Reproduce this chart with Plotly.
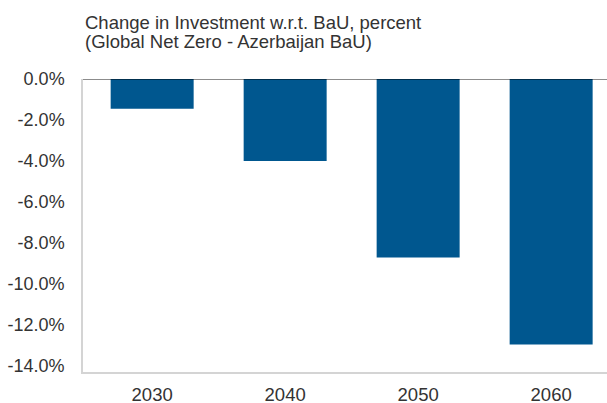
import plotly.graph_objects as go

# Change in investment relative to BaU, by year
years = ["2030", "2040", "2050", "2060"]
change_pct = [-1.45, -4.0, -8.7, -12.95]

y_ticks = [0, -2, -4, -6, -8, -10, -12, -14]
y_tick_text = ["0.0%", "-2.0%", "-4.0%", "-6.0%", "-8.0%", "-10.0%", "-12.0%", "-14.0%"]

title_lines = [
    "Change in Investment w.r.t. BaU, percent",
    "(Global Net Zero - Azerbaijan BaU)",
]

bar_color = "#00578F"
text_color = "#333333"
font_family = "Liberation Sans, Arial, sans-serif"

fig = go.Figure(
    go.Bar(
        x=years,
        y=change_pct,
        marker=dict(color=bar_color, line=dict(width=0)),
        width=0.624,
        hoverinfo="skip",
    )
)

# two-line heading, tighter leading than Plotly's default <br>
title_annotations = [
    dict(
        text=line,
        xref="paper", yref="paper",
        x=0, y=1, yshift=shift,
        xanchor="left", yanchor="middle",
        align="left",
        showarrow=False,
        font=dict(size=18.5, color=text_color, family=font_family),
    )
    for line, shift in zip(title_lines, [57.0, 38.0])
]

fig.update_layout(
    width=607,
    height=403,
    margin=dict(l=83, r=0, t=79, b=31),
    paper_bgcolor="white",
    plot_bgcolor="white",
    showlegend=False,
    font=dict(family=font_family, color=text_color, size=18),
    annotations=title_annotations,
    shapes=[
        dict(
            type="line", xref="paper", yref="y",
            x0=0, x1=1, y0=0, y1=0,
            line=dict(color="rgba(0,0,0,0.45)", width=2),
            layer="above",
        )
    ],
)

fig.update_xaxes(
    type="category",
    range=[-0.52, 3.42],
    automargin=False,
    showgrid=False,
    showline=True,
    linecolor="#d4d4d4",
    linewidth=1.5,
    ticks="",
    ticklabelstandoff=5,
    tickfont=dict(size=18.5, color=text_color),
)

fig.update_yaxes(
    range=[-14.29, 0],
    automargin=False,
    tickvals=y_ticks,
    ticktext=y_tick_text,
    showgrid=False,
    zeroline=False,
    showline=True,
    linecolor="#d4d4d4",
    linewidth=1.5,
    ticks="",
    ticklabelstandoff=13,
    tickfont=dict(size=18, color=text_color),
)

fig.write_html("out.html")
